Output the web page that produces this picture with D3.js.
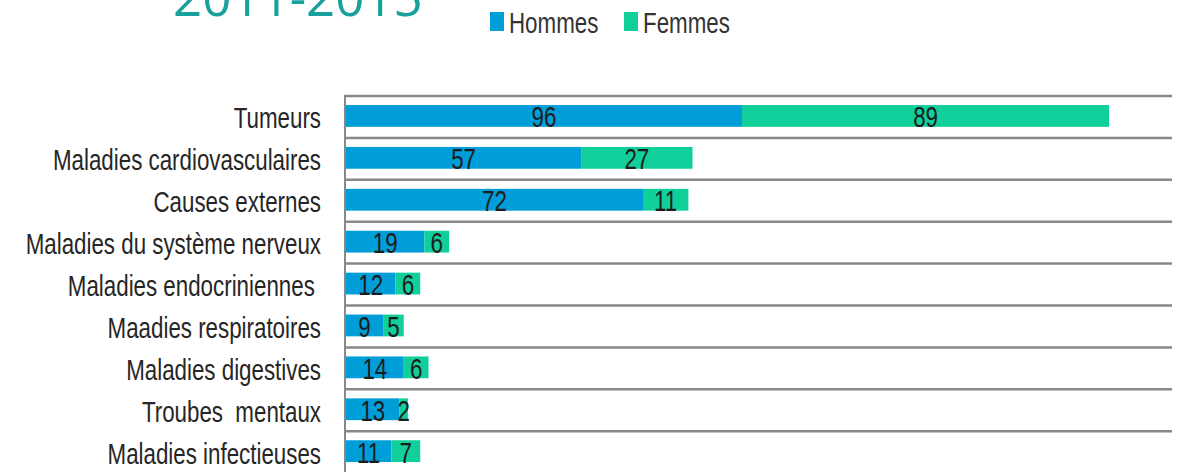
<!DOCTYPE html>
<html><head><meta charset="utf-8">
<script src="https://cdn.jsdelivr.net/npm/d3@7"></script>
<style>body{margin:0;background:#fff;overflow:hidden} text{white-space:pre}</style>
</head><body><svg id="c" width="1193" height="472"></svg>
<script>
const categories = ["Tumeurs","Maladies cardiovasculaires","Causes externes","Maladies du système nerveux","Maladies endocriniennes ","Maadies respiratoires","Maladies digestives","Troubes  mentaux","Maladies infectieuses"];
const hommes = [96,57,72,19,12,9,14,13,11];
const femmes = [89,27,11,6,6,5,6,2,7];
const seriesNames = ["Hommes","Femmes"];
const title = "2011-2015";
const colors = ["#009ed8","#10cf9b"];

const svg = d3.select("#c");
const SX = 0.77;
const font = "'Liberation Sans', Arial, sans-serif";
const x = d3.scaleLinear().domain([0,200]).range([346,1171]);
const y = d3.scaleBand().domain(categories).range([95,472.1]).paddingInner(0.48).paddingOuter(0.24);
const color = d3.scaleOrdinal().domain(seriesNames).range(colors);

const data = categories.map((c,i)=>({cat:c, Hommes:hommes[i], Femmes:femmes[i]}));
const stacked = d3.stack().keys(seriesNames)(data);

// gridlines at category boundaries
const bounds = categories.map(c => y(c) - y.step()*y.paddingInner()/2);
svg.append("g").selectAll("line").data(bounds).join("line")
  .attr("x1", x(0)-2).attr("x2", x(200)+1)
  .attr("y1", d=>d+1).attr("y2", d=>d+1)
  .attr("stroke","#888").attr("stroke-width",2.5);

// bars
svg.append("g").selectAll("g").data(stacked).join("g")
  .attr("fill", s=>color(s.key))
  .selectAll("rect").data(s=>s).join("rect")
  .attr("x", d=>x(d[0]))
  .attr("width", d=>x(d[1])-x(d[0]))
  .attr("y", d=>y(d.data.cat))
  .attr("height", y.bandwidth());

// axis line
svg.append("line").attr("x1",x(0)-1).attr("x2",x(0)-1)
  .attr("y1", bounds[0]).attr("y2", 472)
  .attr("stroke","#888").attr("stroke-width",2);

// value labels
svg.append("g").selectAll("g").data(stacked).join("g")
  .selectAll("g").data(s=>s).join("g")
  .attr("transform", d=>`translate(${(x(d[0])+x(d[1]))/2},${y(d.data.cat)+y.bandwidth()/2+11.5}) scale(${SX},1)`)
  .append("text")
  .attr("text-anchor","middle")
  .attr("font-family",font).attr("font-size",29).attr("fill","#1c1c1c")
  .text(d=>d[1]-d[0]);

// category labels
svg.append("g").selectAll("g").data(categories).join("g")
  .attr("transform", c=>`translate(321,${y(c)+y.bandwidth()/2+12.5}) scale(${SX},1)`)
  .append("text")
  .attr("text-anchor","end")
  .attr("font-family",font).attr("font-size",29).attr("fill","#262626")
  .text(c=>c);

// legend
const legendX = [490, 624];
const lg = svg.append("g").selectAll("g").data(seriesNames).join("g")
  .attr("transform",(d,i)=>`translate(${legendX[i]},0)`);
lg.append("rect").attr("x",0).attr("y",12).attr("width",14).attr("height",19).attr("fill",d=>color(d));
lg.append("g").attr("transform",`translate(19,33) scale(${SX},1)`)
  .append("text").attr("font-family",font).attr("font-size",29).attr("fill","#333")
  .text(d=>d);

// title
svg.append("text").attr("x",173).attr("y",15.7)
  .attr("font-family","'Open Sans', sans-serif").attr("font-size",51)
  .attr("fill","#17a09c").text(title);
</script></body></html>
